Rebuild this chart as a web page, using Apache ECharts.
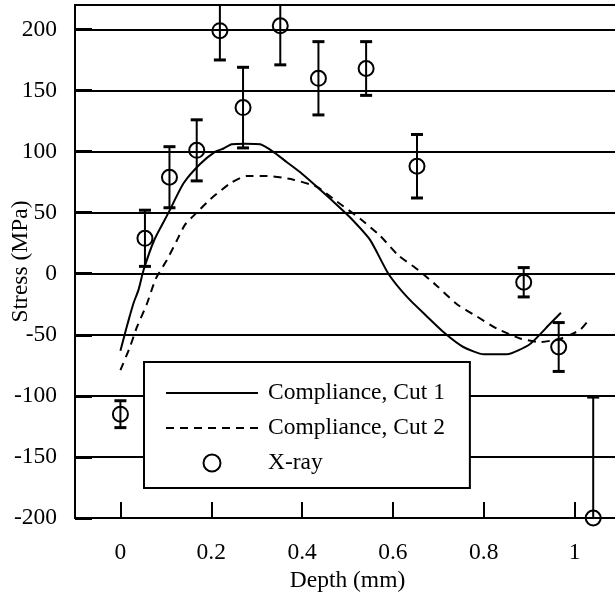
<!DOCTYPE html>
<html>
<head>
<meta charset="utf-8">
<title>Stress vs depth</title>
<script src="https://cdn.jsdelivr.net/npm/echarts@6/dist/echarts.min.js"></script>
<style>
  html, body { margin: 0; padding: 0; background: #fff; }
  #main { width: 615px; height: 592px; }
</style>
</head>
<body>
<div id="main"></div>
<script type="text/javascript">
// compliance, cut 1 (solid)
var cut1Depth  = [0, 0.010, 0.018, 0.029, 0.040, 0.051, 0.075, 0.106, 0.139, 0.176, 0.209, 0.227, 0.245, 0.275, 0.308, 0.336, 0.366, 0.396, 0.433, 0.469, 0.506, 0.550, 0.590, 0.631, 0.675, 0.715, 0.755, 0.800, 0.851, 0.902, 0.946, 0.970];
var cut1Stress = [-63, -49, -38, -24, -13, 3, 28, 50, 74, 90, 100, 102.5, 106, 106.5, 106, 100, 91.5, 83, 71, 59, 46, 27.5, 0, -19, -35, -49, -60, -66, -66, -57.5, -41, -32];

// compliance, cut 2 (dashed)
var cut2Depth  = [0, 0.021, 0.036, 0.058, 0.078, 0.102, 0.124, 0.142, 0.168, 0.198, 0.242, 0.278, 0.322, 0.381, 0.433, 0.477, 0.528, 0.572, 0.612, 0.656, 0.697, 0.741, 0.785, 0.829, 0.880, 0.924, 0.970, 1.012, 1.031];
var cut2Stress = [-79, -60, -44, -25, -4, 11, 27, 40, 50, 61, 74, 80, 80, 77, 71, 59, 45, 31, 15, 3, -10, -25, -35, -45, -53, -56, -53, -46, -38];

// x-ray points with error bars (+/-)
var xrayDepth  = [0, 0.054, 0.108, 0.168, 0.219, 0.270, 0.352, 0.436, 0.541, 0.653, 0.888, 0.965, 1.041];
var xrayStress = [-115, 29, 79, 101, 199, 136, 203, 160, 168, 88, -7, -60, -200];
var xrayErr    = [11, 23, 25, 25, 24, 33, 32, 30, 22, 26, 12, 20, 99];

var xTicks = [0, 0.2, 0.4, 0.6, 0.8, 1];

var FONT = 'Liberation Serif';
var FS = 23.5;

function pairs(xs, ys) {
    var out = [];
    for (var i = 0; i < xs.length; i++) out.push([xs[i], ys[i]]);
    return out;
}

var errData = [];
for (var i = 0; i < xrayDepth.length; i++) {
    errData.push([xrayDepth[i], xrayStress[i] - xrayErr[i], xrayStress[i] + xrayErr[i]]);
}

// line entries in the legend: no marker on the sample line
var noMarker = { color: 'rgba(0,0,0,0)', borderColor: 'rgba(0,0,0,0)', borderWidth: 0 };

var myChart = echarts.init(document.getElementById('main'));

myChart.setOption({
    animation: false,
    backgroundColor: '#fff',
    textStyle: { fontFamily: FONT, color: '#000' },
    grid: { left: 75, top: 5, right: -5, bottom: 74, outerBoundsMode: 'none', containLabel: false },
    legend: {
        data: [
            { name: 'Compliance, Cut 1', itemStyle: noMarker },
            { name: 'Compliance, Cut 2', itemStyle: noMarker },
            { name: 'X-ray' }
        ],
        orient: 'vertical',
        left: 144,
        top: 362,
        backgroundColor: '#fff',
        borderColor: '#000',
        borderWidth: 2,
        borderRadius: 0,
        padding: [19, 25, 13, 21],
        itemWidth: 92,
        itemHeight: 17,
        itemGap: 11,
        selectedMode: false,
        textStyle: { fontFamily: FONT, fontSize: FS, color: '#000', lineHeight: 24, padding: [0, 0, 0, 5] }
    },
    xAxis: [{
        type: 'value',
        min: -0.1,
        max: 1.1,
        name: 'Depth (mm)',
        nameLocation: 'middle',
        nameGap: 51,
        nameMoveOverlap: false,
        nameTextStyle: { fontFamily: FONT, fontSize: FS, color: '#000' },
        axisLine: { onZero: false, lineStyle: { color: '#000', width: 2 } },
        axisTick: { inside: true, length: 16, lineStyle: { color: '#000', width: 2 }, customValues: xTicks },
        axisLabel: { fontFamily: FONT, fontSize: FS, color: '#000', margin: 23, customValues: xTicks },
        splitLine: { show: false }
    }, {
        type: 'value',
        position: 'top',
        min: -0.1,
        max: 1.1,
        axisLine: { onZero: false, lineStyle: { color: '#000', width: 2 } },
        axisTick: { show: false },
        axisLabel: { show: false },
        splitLine: { show: false }
    }],
    yAxis: {
        type: 'value',
        min: -200,
        max: 220,
        interval: 50,
        name: 'Stress (MPa)',
        nameLocation: 'middle',
        nameGap: 42,
        nameMoveOverlap: false,
        nameTextStyle: { fontFamily: FONT, fontSize: FS, color: '#000' },
        axisLine: { onZero: false, lineStyle: { color: '#000', width: 2 } },
        axisTick: { inside: true, length: 17, lineStyle: { color: '#000', width: 3 } },
        axisLabel: { fontFamily: FONT, fontSize: FS, color: '#000', margin: 18, showMaxLabel: false },
        splitLine: { show: true, lineStyle: { color: '#000', width: 2 } }
    },
    series: [{
        name: 'Compliance, Cut 1',
        type: 'line',
        data: pairs(cut1Depth, cut1Stress),
        symbol: 'none',
        smooth: 0.2,
        clip: false,
        lineStyle: { color: '#000', width: 2, type: 'solid' },
        itemStyle: { color: '#000' }
    }, {
        name: 'Compliance, Cut 2',
        type: 'line',
        data: pairs(cut2Depth, cut2Stress),
        symbol: 'none',
        smooth: 0.2,
        clip: false,
        lineStyle: { color: '#000', width: 2, type: [8, 6] },
        itemStyle: { color: '#000' }
    }, {
        name: 'errbars',
        type: 'custom',
        clip: true,
        data: errData,
        renderItem: function (params, api) {
            var x = api.value(0);
            var lo = api.coord([x, api.value(1)]);
            var hi = api.coord([x, api.value(2)]);
            var hw = 6;
            var st = { stroke: '#000', lineWidth: 2 };
            return {
                type: 'group',
                children: [
                    { type: 'line', shape: { x1: lo[0], y1: lo[1], x2: hi[0], y2: hi[1] }, style: st },
                    { type: 'line', shape: { x1: lo[0] - hw, y1: lo[1], x2: lo[0] + hw, y2: lo[1] }, style: { stroke: '#000', lineWidth: 3 } },
                    { type: 'line', shape: { x1: hi[0] - hw, y1: hi[1], x2: hi[0] + hw, y2: hi[1] }, style: { stroke: '#000', lineWidth: 3 } }
                ]
            };
        }
    }, {
        name: 'X-ray',
        type: 'scatter',
        data: pairs(xrayDepth, xrayStress),
        symbol: 'circle',
        symbolSize: 15,
        clip: false,
        itemStyle: { color: 'rgba(0,0,0,0)', borderColor: '#000', borderWidth: 2, opacity: 1 }
    }]
});
</script>
</body>
</html>
